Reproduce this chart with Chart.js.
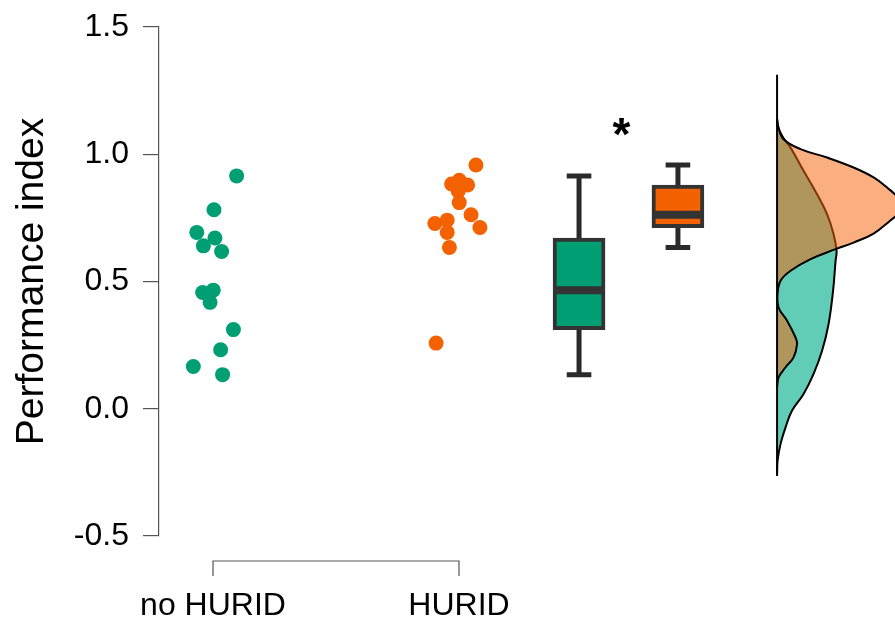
<!DOCTYPE html>
<html>
<head>
<meta charset="utf-8">
<script src="https://cdn.jsdelivr.net/npm/chart.js@4"></script>
<style>
  html, body { margin: 0; padding: 0; background: #fff; overflow: hidden; }
  #wrap { width: 895px; height: 619px; }
</style>
</head>
<body>
<div id="wrap"><canvas id="raincloud"></canvas></div>
<script>
// Datos
const groups = ['no HURID', 'HURID'];
const yTicks = [-0.5, 0, 0.5, 1.0, 1.5];

const noHuridValues = [0.915, 0.782, 0.693, 0.671, 0.640, 0.618, 0.466, 0.457, 0.418, 0.311, 0.232, 0.166, 0.134];
const noHuridJitter = [0.096, 0.004, -0.066, 0.008, -0.039, 0.035, 0.001, -0.042, -0.012, 0.083, 0.031, -0.080, 0.039];
const huridValues = [0.958, 0.883, 0.898, 0.879, 0.856, 0.810, 0.762, 0.712, 0.728, 0.741, 0.693, 0.634, 0.258];
const huridJitter = [0.069, -0.030, 0.001, 0.035, -0.003, 0.001, 0.049, 0.085, -0.098, -0.048, -0.048, -0.039, -0.093];

// [min, q1, mediana, q3, max]
const noHuridBox = [0.134, 0.311, 0.466, 0.671, 0.915];
const huridBox = [0.634, 0.712, 0.762, 0.879, 0.958];

// densidades (valor, altura)
const noHuridDensityY = [1.139, 1.105, 1.066, 1.026, 0.935, 0.843, 0.765, 0.686, 0.621, 0.581, 0.464, 0.333, 0.228, 0.137, 0.058, -0.007, -0.073, -0.138, -0.204, -0.255];
const noHuridDensity = [0, 0.02, 0.12, 0.27, 0.53, 0.80, 1.00, 1.13, 1.19, 1.17, 1.12, 1.03, 0.90, 0.73, 0.53, 0.30, 0.17, 0.07, 0.01, 0];
const huridDensityY = [1.139, 1.105, 1.059, 1.020, 0.987, 0.948, 0.909, 0.869, 0.830, 0.801, 0.770, 0.739, 0.688, 0.653, 0.627, 0.588, 0.542, 0.503, 0.452, 0.398, 0.346, 0.280, 0.254, 0.202, 0.163, 0.123, 0.084];
const huridDensity = [0, 0.03, 0.13, 0.47, 1.00, 1.53, 1.93, 2.20, 2.42, 2.50, 2.44, 2.26, 1.93, 1.53, 1.17, 0.67, 0.27, 0.07, 0.01, 0.03, 0.20, 0.37, 0.40, 0.33, 0.17, 0.03, 0];
const densityRange = [-0.264, 1.312];

// Posiciones y estilos
const GREEN = '#009E73';
const ORANGE = '#F36100';
const boxX = [2.488, 2.890];
const densityBase = 3.293;
const densityScale = 0.2033;
const capHalf = 0.05;
const medianHalf = 0.098;
const sigPos = { x: 2.66, y: 1.09 };
const FONT = "'Liberation Sans', Arial, sans-serif";

function points(values, jitter, center) {
    return values.map((v, i) => ({ x: center + jitter[i], y: v }));
}

function whiskers(stats, cx) {
    return [
        { x: cx, y: stats[3] }, { x: cx, y: stats[4] }, { x: cx, y: null },
        { x: cx, y: stats[1] }, { x: cx, y: stats[0] }, { x: cx, y: null },
        { x: cx - capHalf, y: stats[4] }, { x: cx + capHalf, y: stats[4] }, { x: cx, y: null },
        { x: cx - capHalf, y: stats[0] }, { x: cx + capHalf, y: stats[0] }
    ];
}

function median(stats, cx) {
    return [{ x: cx - medianHalf, y: stats[2] }, { x: cx + medianHalf, y: stats[2] }];
}

function densityCurve(ys, ds) {
    return ys.map((y, i) => ({ x: densityBase + ds[i] * densityScale, y: y }));
}

// Corchete del eje x y asterisco
const extrasPlugin = {
    id: 'extras',
    afterDraw(chart) {
        const ctx = chart.ctx;
        const xs = chart.scales.x;
        const ys = chart.scales.y;
        const x1 = xs.getPixelForValue(1);
        const x2 = xs.getPixelForValue(2);
        const yb = chart.chartArea.bottom + 25;
        ctx.save();
        ctx.strokeStyle = '#555';
        ctx.lineWidth = 1.2;
        ctx.beginPath();
        ctx.moveTo(x1, yb + 15);
        ctx.lineTo(x1, yb);
        ctx.lineTo(x2, yb);
        ctx.lineTo(x2, yb + 15);
        ctx.stroke();

        ctx.fillStyle = '#000';
        ctx.font = 'bold 46px ' + FONT;
        ctx.textAlign = 'center';
        ctx.textBaseline = 'middle';
        ctx.fillText('*', xs.getPixelForValue(sigPos.x), ys.getPixelForValue(sigPos.y) + 6);
        ctx.restore();
    }
};

const ctx = document.getElementById('raincloud');
new Chart(ctx, {
    type: 'scatter',
    data: {
        datasets: [
            {
                type: 'line',
                data: [{ x: densityBase, y: densityRange[0] }, { x: densityBase, y: densityRange[1] }],
                borderColor: '#000',
                borderWidth: 2,
                pointRadius: 0,
                order: 0
            },
            {
                data: points(noHuridValues, noHuridJitter, 1),
                backgroundColor: GREEN,
                borderWidth: 0,
                pointRadius: 7.5,
                order: 1
            },
            {
                data: points(huridValues, huridJitter, 2),
                backgroundColor: ORANGE,
                borderWidth: 0,
                pointRadius: 7.5,
                order: 1
            },
            {
                type: 'line',
                data: median(noHuridBox, boxX[0]).concat([{ x: boxX[0], y: null }], median(huridBox, boxX[1])),
                borderColor: '#333',
                borderWidth: 8,
                pointRadius: 0,
                order: 2
            },
            {
                type: 'bar',
                data: [
                    { x: boxX[0], y: [noHuridBox[1], noHuridBox[3]] },
                    { x: boxX[1], y: [huridBox[1], huridBox[3]] }
                ],
                backgroundColor: [GREEN, ORANGE],
                borderColor: '#333',
                borderWidth: 4,
                borderSkipped: false,
                barThickness: 52,
                order: 3
            },
            {
                type: 'line',
                data: whiskers(noHuridBox, boxX[0]).concat([{ x: boxX[0], y: null }], whiskers(huridBox, boxX[1])),
                borderColor: '#2a2a2a',
                borderWidth: 5,
                pointRadius: 0,
                spanGaps: false,
                order: 4
            },
            {
                type: 'line',
                data: densityCurve(huridDensityY, huridDensity),
                borderColor: '#000',
                borderWidth: 2,
                backgroundColor: 'rgba(248, 100, 10, 0.52)',
                fill: 'shape',
                tension: 0.4,
                pointRadius: 0,
                order: 5
            },
            {
                type: 'line',
                data: densityCurve(noHuridDensityY, noHuridDensity),
                borderColor: '#000',
                borderWidth: 2,
                backgroundColor: '#62CDB6',
                fill: 'shape',
                tension: 0.4,
                pointRadius: 0,
                order: 6
            }
        ]
    },
    options: {
        responsive: true,
        maintainAspectRatio: false,
        animation: false,
        layout: { autoPadding: false, padding: { top: 27, right: 0, bottom: 0, left: 0 } },
        plugins: {
            legend: { display: false },
            tooltip: { enabled: false }
        },
        scales: {
            x: {
                type: 'linear',
                min: 0.7805,
                max: 3.7724,
                offset: false,
                afterBuildTicks(scale) {
                    scale.ticks = groups.map((g, i) => ({ value: i + 1 }));
                },
                afterFit(scale) {
                    scale.height = 83;
                    scale.paddingLeft = 0;
                    scale.paddingRight = 0;
                },
                ticks: {
                    callback: (v) => groups[Math.round(v) - 1],
                    font: { size: 32, family: FONT },
                    color: '#000',
                    padding: 51,
                    maxRotation: 0,
                    autoSkip: false
                },
                grid: { display: false, drawTicks: false, offset: false },
                border: { display: false }
            },
            y: {
                min: yTicks[0],
                max: yTicks[yTicks.length - 1],
                afterBuildTicks(scale) {
                    scale.ticks = yTicks.map(v => ({ value: v }));
                },
                afterFit(scale) {
                    scale.width = 159;
                    scale.paddingTop = 0;
                    scale.paddingBottom = 0;
                },
                ticks: {
                    callback: (v) => v.toFixed(1),
                    font: { size: 32, family: FONT },
                    color: '#000',
                    padding: 14
                },
                grid: { drawOnChartArea: false, tickLength: 16, color: '#555', lineWidth: 1.2 },
                border: { color: '#555', width: 1.2 },
                title: {
                    display: true,
                    text: 'Performance index',
                    font: { size: 39, family: FONT },
                    color: '#000',
                    padding: { top: 9, bottom: 0 }
                }
            }
        }
    },
    plugins: [extrasPlugin]
});
</script>
</body>
</html>
